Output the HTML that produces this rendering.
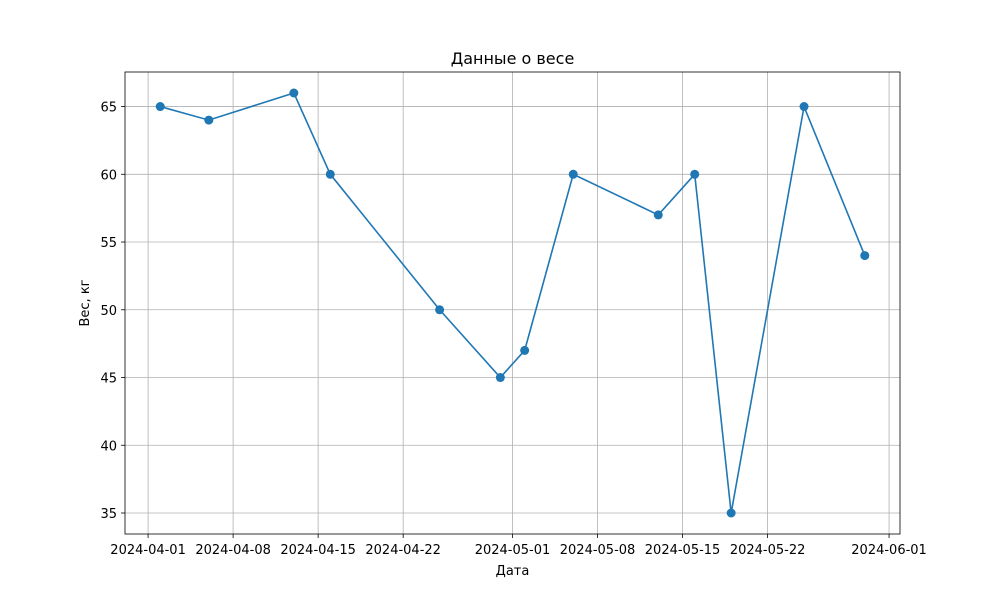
<!DOCTYPE html>
<html><head><meta charset="utf-8"><style>
body{margin:0;background:#fff;font-family:"Liberation Sans","DejaVu Sans",sans-serif}
</style></head><body>
<svg id="chart" width="1000" height="600" xmlns="http://www.w3.org/2000/svg" font-family="'DejaVu Sans','Liberation Sans',sans-serif"></svg>
<script>
const dates=["2024-04-02","2024-04-06","2024-04-13","2024-04-16","2024-04-25","2024-04-30","2024-05-02","2024-05-06","2024-05-13","2024-05-16","2024-05-19","2024-05-25","2024-05-30"];
const weights=[65,64,66,60,50,45,47,60,57,60,35,65,54];
const xTicks=["2024-04-01","2024-04-08","2024-04-15","2024-04-22","2024-05-01","2024-05-08","2024-05-15","2024-05-22","2024-06-01"];
const yTicks=[35,40,45,50,55,60,65];
const svg=document.getElementById('chart');
const NS="http://www.w3.org/2000/svg";
const L=125,R=900,T=72,B=534;
const day=s=>Date.parse(s+"T00:00:00Z")/864e5;
const d0=Math.min(...dates.map(day)),d1=Math.max(...dates.map(day));
const xm=(d1-d0)*0.05;
const yMin=Math.min(...weights),yMax=Math.max(...weights),ym=(yMax-yMin)*0.05;
const x=s=>L+(day(s)-(d0-xm))/((d1+xm)-(d0-xm))*(R-L);
const y=v=>B-(v-(yMin-ym))/((yMax+ym)-(yMin-ym))*(B-T);
function el(t,a,txt){const e=document.createElementNS(NS,t);for(const k in a)e.setAttribute(k,a[k]);if(txt!=null)e.textContent=txt;svg.appendChild(e);return e;}
xTicks.forEach(t=>{const px=x(t);
 const g=el('line',{x1:px,x2:px,y1:T,y2:B,stroke:'#b0b0b0','stroke-width':0.8});
 
 
 el('line',{x1:px,x2:px,y1:B,y2:B+4,stroke:'#000','stroke-width':0.8});
 const lb=el('text',{x:px,y:B+20,'text-anchor':'middle','font-size':13},t);
 
 
});
yTicks.forEach(t=>{const py=y(t);
 const g=el('line',{x1:L,x2:R,y1:py,y2:py,stroke:'#b0b0b0','stroke-width':0.8});
 
 
 el('line',{x1:L-4,x2:L,y1:py,y2:py,stroke:'#000','stroke-width':0.8});
 const lb=el('text',{x:L-8,y:py+5,'text-anchor':'end','font-size':13},t);
 
 
});
const fr=el('rect',{x:L,y:T,width:R-L,height:B-T,fill:'none',stroke:'#000','stroke-width':0.8});


const ln=el('polyline',{points:dates.map((d,i)=>x(d)+','+y(weights[i])).join(' '),fill:'none',stroke:'#1f77b4','stroke-width':1.6});


dates.forEach((d,i)=>{const c=el('circle',{cx:x(d),cy:y(weights[i]),r:4.5,fill:'#1f77b4'});
 
 });
const tt=el('text',{x:(L+R)/2,y:64,'text-anchor':'middle','font-size':16},'Данные о весе');


const xl=el('text',{x:(L+R)/2,y:575,'text-anchor':'middle','font-size':13},'Дата');


const yl=el('text',{x:89,y:(T+B)/2,'text-anchor':'middle','font-size':13,transform:`rotate(-90 89 ${(T+B)/2})`},'Вес, кг');


</script>
</body></html>
